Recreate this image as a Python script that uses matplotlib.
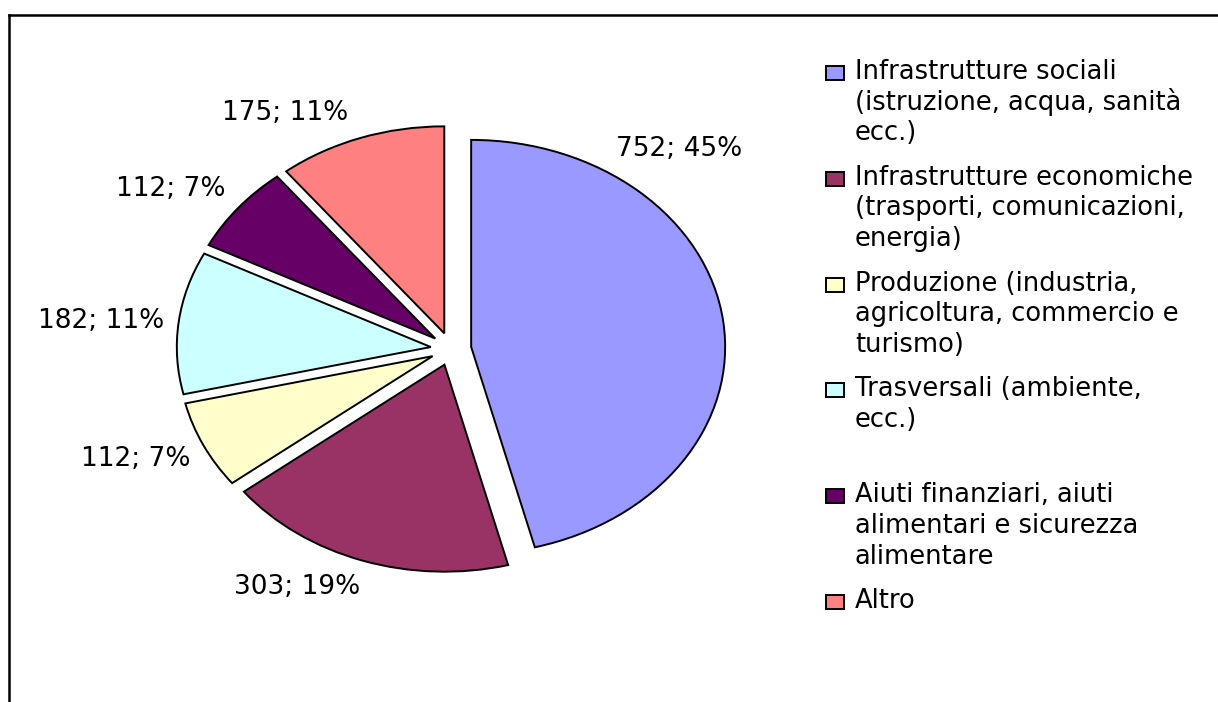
import matplotlib
matplotlib.use("Agg")
import matplotlib.pyplot as plt
from matplotlib.patches import Rectangle
from matplotlib.lines import Line2D

plt.rcParams["font.family"] = ["DejaVu Sans"]

# ---- data ----
categories = [
    "Infrastrutture sociali (istruzione, acqua, sanità ecc.)",
    "Infrastrutture economiche (trasporti, comunicazioni, energia)",
    "Produzione (industria, agricoltura, commercio e turismo)",
    "Trasversali (ambiente, ecc.)",
    "Aiuti finanziari, aiuti alimentari e sicurezza alimentare",
    "Altro",
]
values = [752, 303, 112, 182, 112, 175]
percent_labels = ["45%", "19%", "7%", "11%", "7%", "11%"]
colors = ["#9999FF", "#993366", "#FFFFCC", "#CCFFFF", "#660066", "#FF8080"]
legend_lines = [
    ["Infrastrutture sociali", "(istruzione, acqua, sanità", "ecc.)"],
    ["Infrastrutture economiche", "(trasporti, comunicazioni,", "energia)"],
    ["Produzione (industria,", "agricoltura, commercio e", "turismo)"],
    ["Trasversali (ambiente,", "ecc.)"],
    ["Aiuti finanziari, aiuti", "alimentari e sicurezza", "alimentare"],
    ["Altro"],
]

# ---- layout (pixels) ----
W, H = 1218, 702
fig = plt.figure(figsize=(W / 100, H / 100), dpi=100)


def fx(x):
    return x / W


def fy(y):
    return 1 - y / H


ax = fig.add_axes([0, 0, 1, 1])
cx, cy, rx, ry = 451, 349, 254, 207
ax.pie(values, colors=colors, startangle=90, counterclock=False,
       explode=[0.08] * len(values), radius=1,
       wedgeprops=dict(edgecolor="black", linewidth=1.4))
ax.set_aspect("auto")
ax.set_xlim(-cx / rx, (W - cx) / rx)
ax.set_ylim(-(H - cy) / ry, cy / ry)
ax.axis("off")

# data labels (pixel centers)
label_pos = [(679, 149), (297, 587), (136, 459), (101, 321), (171, 189), (285, 113)]
for v, p, (lx, ly) in zip(values, percent_labels, label_pos):
    fig.text(fx(lx), fy(ly), f"{v}; {p}", ha="center", va="center",
             fontsize=19, color="black")

# legend
for i, (lines, col) in enumerate(zip(legend_lines, colors)):
    base = 79 + i * 105.8
    fig.add_artist(Rectangle((fx(826), fy(base + 1)), 18 / W, 14 / H,
                             transform=fig.transFigure, facecolor=col,
                             edgecolor="black", linewidth=1.4))
    for j, ln in enumerate(lines):
        fig.text(fx(855), fy(base + j * 30.7), ln, ha="left", va="baseline",
                 fontsize=18.5, color="black")

# chart frame (left and top edges)
fig.add_artist(Line2D([fx(8.5), fx(8.5)], [fy(14.8), 0], transform=fig.transFigure,
                      color="black", linewidth=1.8))
fig.add_artist(Line2D([fx(8.5), 1], [fy(14.8), fy(14.8)], transform=fig.transFigure,
                      color="black", linewidth=1.8))

fig.savefig("out.png", dpi=100)
